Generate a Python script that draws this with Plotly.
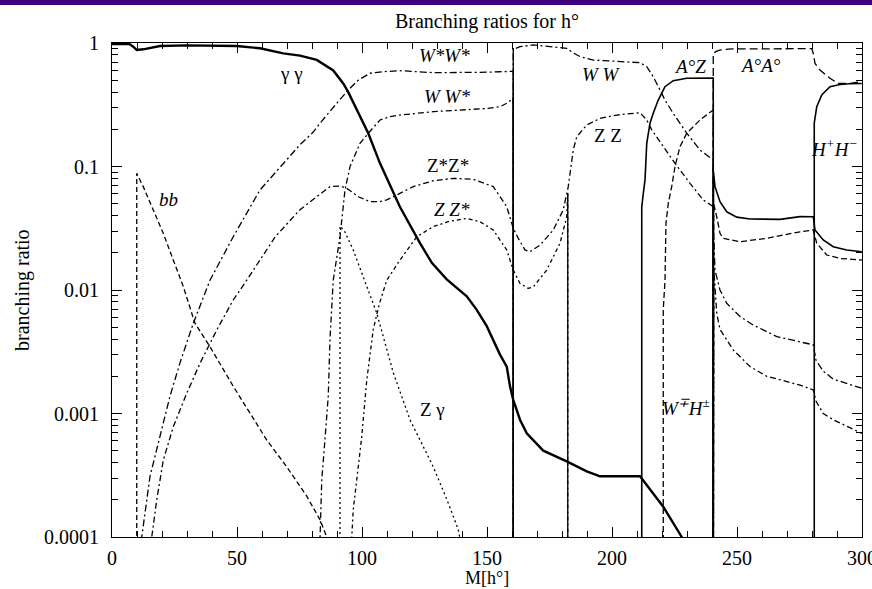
import math
import plotly.graph_objects as go

# ---------------- data ----------------
OFF = 1e-6  # value below the axis: used where a channel is zero (vertical jumps)

gg_x = [0, 7, 8.5, 9.9, 12.5, 15.2, 19.2, 29.9, 49.9, 59.2, 68.5, 75.2, 81.9, 88.5, 92.5, 94.5,
        97.9, 102.5, 107.2, 112.5, 115.2, 123.2, 128, 133.9, 137.9, 141.9, 145.9, 149.9, 155.2,
        157.9, 159.2, 160.5, 163.2, 165.9, 172.5, 181.9, 189.9, 195.2, 211.2, 220.5, 227.9, 229]
gg_y = [0.98, 0.98, 0.933, 0.877, 0.889, 0.916, 0.946, 0.957, 0.946, 0.906, 0.824, 0.79, 0.73,
        0.60, 0.47, 0.40, 0.287, 0.186, 0.106, 0.061, 0.047, 0.024, 0.0165, 0.0122, 0.0105,
        0.0089, 0.0069, 0.0051, 0.003, 0.0024, 0.00166, 0.00129, 0.00089, 0.00069, 0.0005,
        0.00041, 0.00034, 0.00031, 0.00031, 0.000176, 0.0001, 0.00009]

bb_x = [9.9, 9.9, 12.5, 16.5, 20.5, 24.5, 28.5, 33.2, 39.2, 48.5, 55.2, 61.9, 69.9, 77.9, 83.2, 85.9, 87]
bb_y = [OFF, 0.088, 0.0687, 0.0445, 0.0288, 0.0175, 0.0107, 0.00537, 0.00347, 0.00166, 0.001,
        0.00061, 0.00037, 0.000214, 0.000138, 0.0001, 0.00008]

ww_x = [11, 11.9, 15.2, 19.2, 23.2, 27.2, 32.5, 39.2, 48.5, 59.2, 69.9, 75.2, 80.5, 83.2, 89.9,
        94.5, 98.5, 103.2, 108.5, 115.2, 128.5, 141.9, 150, 155, 159.2, 160.5, 160.5, 160.5,
        161.2, 163.2, 168.5, 176.5, 181.9, 184.5, 187.2, 192.5, 201.9, 211.2, 213.9, 216.5,
        219.2, 221.2, 224.5, 229.9, 235.2, 240.5, 240.5, 240.6, 241.2, 243.2, 245.9, 251.2,
        256.5, 265.9, 275.2, 280.5, 281.6, 284.5, 288.5, 299.9]
ww_y = [7e-5, 1e-4, 0.00031, 0.00065, 0.00138, 0.00257, 0.00537, 0.012, 0.027, 0.0646, 0.113,
        0.15, 0.19, 0.224, 0.325, 0.416, 0.50, 0.569, 0.586, 0.597, 0.575, 0.575, 0.58, 0.585,
        0.586, 0.59, OFF, 0.91, 0.90, 0.933, 0.964, 0.933, 0.906, 0.83, 0.776, 0.728, 0.706,
        0.693, 0.643, 0.533, 0.417, 0.345, 0.269, 0.186, 0.136, 0.113, OFF, 0.03, 0.0145, 0.01,
        0.0078, 0.0061, 0.0052, 0.0042, 0.0038, 0.0036, 0.0027, 0.0022, 0.0019, 0.0016]

wws_x = [82.8, 83.2, 83.9, 85.2, 86.5, 87.2, 88.5, 91.2, 91.9, 93.2, 95.2, 99.2, 102.5, 107.2,
         111.2, 115.2, 128.5, 141.9, 150, 155.2, 158.5, 160.5, 160.5]
wws_y = [5e-5, 1e-4, 0.00029, 0.00062, 0.00138, 0.004, 0.012, 0.027, 0.037, 0.0646, 0.0998,
         0.154, 0.186, 0.238, 0.253, 0.261, 0.278, 0.287, 0.295, 0.305, 0.33, 0.36, OFF]

zz_x = [15, 15.9, 17.9, 20.5, 24.5, 29.9, 35.2, 41.9, 48.5, 53.9, 65.3, 75.2, 81.9, 87.2, 91.2,
        93.9, 95.9, 98.5, 103.2, 107.2, 109.9, 115.2, 120.5, 128.5, 136.5, 144.5, 147.2, 152.5,
        157.9, 160.5, 162.5, 165.2, 167.2, 171.2, 176.5, 180.5, 182.5, 184.5, 185.9, 189.9,
        195.2, 201.9, 211.2, 213.9, 215.9, 220.5, 225.2, 231.2, 236.5, 240.5, 240.5, 240.7,
        241.9, 243.2, 248.5, 255.2, 261.9, 275.2, 280.5, 281.6, 284.5, 288.5, 299.9]
zz_y = [6e-5, 1e-4, 0.0002, 0.000417, 0.00078, 0.00146, 0.00255, 0.00474, 0.0083, 0.012, 0.027,
        0.0447, 0.0569, 0.0687, 0.0695, 0.0665, 0.0625, 0.0569, 0.0519, 0.0519, 0.0536, 0.0607,
        0.0687, 0.0767, 0.0802, 0.0787, 0.0753, 0.0687, 0.0473, 0.0316, 0.0262, 0.0211, 0.0204,
        0.0231, 0.0306, 0.0445, 0.0687, 0.136, 0.174, 0.217, 0.245, 0.261, 0.273, 0.238, 0.198,
        0.145, 0.106, 0.0731, 0.0536, 0.0473, OFF, 0.015, 0.00646, 0.0048, 0.00327, 0.0024,
        0.002, 0.0017, 0.00155, 0.00126, 0.001, 0.00089, 0.00069]

zzs_x = [95.3, 95.9, 96.5, 97.9, 99.9, 101.9, 104.5, 107, 109.9, 115.2, 121.9, 128.5, 135,
         141.9, 147.2, 152.5, 157.9, 160.5, 163.2, 166.5, 168.5, 173.9, 179.2, 181.9, 182.3, 182.3]
zzs_y = [6e-5, 1e-4, 0.000166, 0.00029, 0.00065, 0.00186, 0.0048, 0.0078, 0.012, 0.0175, 0.027,
         0.0326, 0.036, 0.038, 0.0357, 0.0306, 0.0211, 0.0145, 0.0113, 0.0103, 0.0106, 0.0145,
         0.0239, 0.0392, 0.0607, OFF]

zg_x = [91.2, 91.2, 93, 96.5, 101.9, 105.9, 112.5, 119.2, 128.5, 134, 138.5, 140]
zg_y = [OFF, 0.033, 0.030, 0.0211, 0.0107, 0.0065, 0.00214, 0.00089, 0.00037, 0.0002, 0.000115, 8e-5]

az_x = [211.9, 211.9, 212.5, 213.2, 213.9, 215.2, 216.5, 218.5, 221.2, 224.5, 229.9, 235,
        240.5, 240.5, 240.6, 241.2, 243.2, 245.9, 249.9, 255.2, 267.2, 275.2, 280.5, 281.2,
        284.5, 288.5, 293.9, 299.9]
az_y = [OFF, 0.047, 0.06, 0.078, 0.154, 0.224, 0.27, 0.345, 0.443, 0.495, 0.518, 0.52, 0.52,
        OFF, 0.09, 0.0687, 0.0519, 0.043, 0.0389, 0.0376, 0.0373, 0.0393, 0.0392, 0.0306,
        0.0254, 0.0224, 0.0211, 0.0204]

wh_x = [220.5, 220.5, 221.2, 221.6, 222.5, 223.9, 225.2, 227.2, 229.9, 235.2, 240.5, 240.5,
        240.7, 241.9, 243.2, 244.5, 251.2, 261.9, 275.2, 280.5, 281.9, 285.9, 291.2, 299.9]
wh_y = [OFF, 0.0069, 0.012, 0.035, 0.05, 0.069, 0.1, 0.145, 0.186, 0.238, 0.287, OFF, 0.05,
        0.039, 0.0288, 0.0262, 0.0246, 0.0262, 0.0296, 0.0306, 0.0239, 0.0192, 0.018, 0.0175]

aa_x = [240.5, 240.5, 241.9, 243.5, 248, 260, 270, 279.9, 280.5, 281.2, 283.2, 287.2, 290.5, 295.2, 299.9]
aa_y = [OFF, 0.826, 0.86, 0.88, 0.895, 0.9, 0.9, 0.9, 0.826, 0.684, 0.604, 0.518, 0.471, 0.471, 0.486]

hh_x = [280.9, 280.9, 281.9, 283.9, 287.2, 291.2, 295, 299.9]
hh_y = [OFF, 0.224, 0.305, 0.379, 0.443, 0.462, 0.468, 0.47]

# labels: text, x, y (data units)
label_text = ["γ γ", "<i>W*W*</i>", "<i>W W*</i>", "Z*Z*", "<i>Z Z*</i>", "<i>bb</i>", "Z γ",
              "<i>W W</i>", "Z Z", "<i>A°Z</i>", "<i>A°A°</i>", "<i>H<sup>+</sup>H<sup>−</sup></i>",
              "<i>W<sup>∓</sup>H<sup>±</sup></i>"]
label_x = [71.6, 132.8, 134, 134.4, 136, 22.4, 128, 195.6, 198.4, 231.2, 259.2, 288.8, 229.6]
label_y = [0.571, 0.785, 0.366, 0.101, 0.0445, 0.0536, 0.00107, 0.561, 0.177, 0.64, 0.652, 0.141, 0.00113]

x_ticks = [0, 50, 100, 150, 200, 250, 300]
y_ticks = [1e-4, 1e-3, 1e-2, 1e-1, 1]
y_tick_text = ["0.0001", "0.001", "0.01", "0.1", "1"]

# ---------------- figure ----------------
FONT = "Liberation Serif, Times New Roman, serif"
fig = go.Figure()


def add_series(xs, ys, dash, width=1.3, solid_jumps=False):
    fig.add_trace(go.Scatter(x=xs, y=ys, mode="lines", hoverinfo="skip",
                             line=dict(color="black", width=width, dash=dash)))
    if solid_jumps:
        for i in range(len(xs) - 1):
            if xs[i] == xs[i + 1]:
                fig.add_trace(go.Scatter(x=[xs[i], xs[i + 1]], y=[ys[i], ys[i + 1]],
                                         mode="lines", hoverinfo="skip",
                                         line=dict(color="black", width=1.3)))


add_series(bb_x, bb_y, "5px,3px")
add_series(ww_x, ww_y, "7px,3px,2px,3px", solid_jumps=True)
add_series(wws_x, wws_y, "6px,3px,2px,3px", solid_jumps=True)
add_series(zz_x, zz_y, "6px,3px,2px,3px", solid_jumps=True)
add_series(zzs_x, zzs_y, "4px,3px,2px,3px", solid_jumps=True)
add_series(zg_x, zg_y, "2px,3px")
add_series(wh_x, wh_y, "6px,3px")
add_series(aa_x, aa_y, "8px,4px")
add_series(az_x, az_y, "solid", width=1.6)
add_series(hh_x, hh_y, "solid", width=1.6)
add_series(gg_x, gg_y, "solid", width=2.4)

# empty trace so that the mirrored top/right axes (carrying minor ticks) are drawn
fig.add_trace(go.Scatter(x=[], y=[], xaxis="x2", yaxis="y2", hoverinfo="skip"))

annotations = []
for t, lx, ly in zip(label_text, label_x, label_y):
    annotations.append(dict(x=lx, y=math.log10(ly), xref="x", yref="y", text=t, showarrow=False,
                            font=dict(family=FONT, size=19, color="black"),
                            xanchor="center", yanchor="middle"))
annotations.append(dict(x=-0.12, y=0.5, xref="paper", yref="paper", text="branching ratio",
                        textangle=-90, showarrow=False, xanchor="center", yanchor="middle",
                        font=dict(family=FONT, size=20, color="black")))
annotations.append(dict(x=0.5, y=-0.084, xref="paper", yref="paper", text="M[h°]",
                        showarrow=False, xanchor="center", yanchor="middle",
                        font=dict(family=FONT, size=18, color="black")))

minor_y = [m * 10 ** e for e in range(-4, 0) for m in range(2, 10)]

common_x = dict(range=[0, 300], tickmode="array", tickvals=x_ticks,
                ticks="inside", ticklen=10, tickwidth=1, tickcolor="black",
                showline=True, linecolor="black", linewidth=1.2,
                showgrid=False, zeroline=False, automargin=False,
                minor=dict(dtick=10, ticks="inside", ticklen=6, tickcolor="black", showgrid=False))
common_y = dict(type="log", range=[-4, 0], tickmode="array", tickvals=y_ticks, ticktext=y_tick_text,
                ticks="inside", ticklen=10, tickwidth=1, tickcolor="black",
                showline=True, linecolor="black", linewidth=1.2,
                showgrid=False, zeroline=False, automargin=False,
                minor=dict(tickmode="array", tickvals=minor_y, ticks="inside", ticklen=6,
                           tickcolor="black", showgrid=False))

fig.update_layout(
    width=872, height=589,
    margin=dict(l=112, r=10, t=43, b=52, autoexpand=False),
    paper_bgcolor="white", plot_bgcolor="white",
    showlegend=False,
    title=dict(text="Branching ratios for h°", x=0.5, xref="paper", y=1 - 21 / 589,
               yanchor="middle", font=dict(family=FONT, size=20, color="black")),
    annotations=annotations,
    shapes=[dict(type="rect", xref="paper", yref="paper", x0=-0.16, x1=1.02,
                 y0=1 + 38 / 494, y1=1 + 45 / 494, fillcolor="#3f0080", line=dict(width=0),
                 layer="above")],
    xaxis=dict(**common_x, ticklabelstandoff=3, ticklabeloverflow="allow",
               tickfont=dict(family=FONT, size=20, color="black")),
    yaxis=dict(**common_y, ticklabelstandoff=8,
               tickfont=dict(family=FONT, size=20, color="black")),
    xaxis2=dict(**common_x, overlaying="x", side="top", showticklabels=False),
    yaxis2=dict(**common_y, overlaying="y", side="right", showticklabels=False),
)

fig.write_html("out.html")
